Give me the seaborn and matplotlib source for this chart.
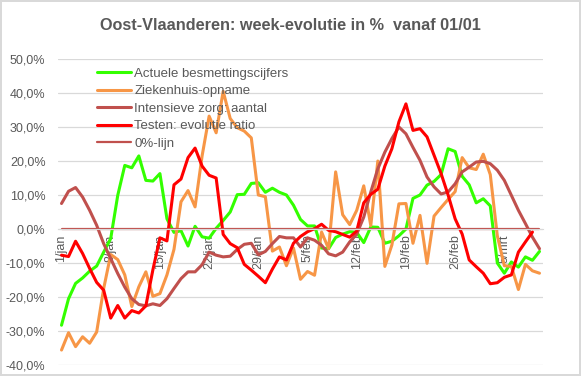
import pandas as pd
import seaborn as sns
import matplotlib.pyplot as plt
from matplotlib.ticker import FuncFormatter, MultipleLocator, FixedLocator

# dagen vanaf 1/jan t.e.m. 10/mrt
dagen = list(range(69))
tick_pos = [0, 7, 14, 21, 28, 35, 42, 49, 56, 63]
tick_labels = ["1/jan", "8/jan", "15/jan", "22/jan", "29/jan",
               "5/feb", "12/feb", "19/feb", "26/feb", "5/mrt"]

# week-evolutie in %
besmettingen = [-28.3, -20.5, -16.0, -14.4, -12.4, -10.9, -6.8, -2.8, 9.9, 18.7,
                18.0, 21.5, 14.3, 14.1, 16.3, 3.0, -1.0, -0.5, -5.0, 0.8,
                -2.3, -2.7, 0.2, 2.5, 5.0, 10.1, 10.2, 13.4, 13.6, 10.8,
                12.0, 10.8, 10.0, 7.0, 2.8, 0.9, 0.9, -5.6, -5.8, -2.5,
                -1.5, -0.8, -1.0, -4.0, 0.6, 0.5, -4.2, -3.6, -2.0, 0.0,
                9.0, 10.0, 12.9, 14.0, 16.0, 23.6, 22.8, 15.5, 13.0, 7.7,
                8.9, 6.8, -10.0, -13.0, -9.7, -11.2, -8.2, -9.2, -6.6]
ziekenhuis = [-35.6, -30.5, -34.6, -31.7, -33.6, -30.3, -17.5, -7.5, -9.0, -13.5,
              -22.8, -17.0, -12.6, -19.8, -19.0, -13.5, -6.0, 8.0, 11.3, 6.5,
              21.5, 33.2, 28.3, 40.5, 32.5, 29.8, 28.8, 26.8, 10.0, 9.5,
              -6.5, -5.3, -10.8, -5.6, -14.8, -12.5, -13.6, -0.9, -5.8, 16.8,
              4.2, 1.3, 5.5, 12.7, 1.0, 20.0, -11.0, -4.7, 7.4, 7.5,
              -4.2, 4.0, -10.1, 3.8, 6.3, 8.7, 11.0, 21.0, 18.0, 17.5,
              22.0, 16.0, -2.0, -10.8, -11.0, -17.8, -10.4, -12.3, -13.0]
intensieve = [7.5, 11.1, 12.2, 9.4, 5.5, 1.1, -4.3, -8.7, -13.1, -17.1,
              -20.5, -22.2, -22.6, -22.0, -22.5, -20.5, -17.5, -14.6, -12.6, -12.6,
              -10.5, -6.8, -7.7, -8.2, -8.0, -6.0, -4.5, -4.2, -7.6, -6.6,
              -4.3, -2.2, -2.6, -2.6, -5.3, -2.6, -3.3, -4.8, -7.3, -7.9,
              -6.8, -3.8, -1.5, 3.5, 10.9, 17.7, 22.6, 26.6, 30.0, 28.0,
              24.0, 20.2, 15.3, 12.4, 10.3, 10.9, 13.3, 16.8, 18.2, 19.7,
              19.9, 19.2, 17.3, 14.3, 9.9, 5.5, 1.6, -2.4, -5.8]
testen = [-7.7, -8.1, -3.6, -7.2, -11.6, -15.7, -18.0, -26.2, -22.5, -26.2,
          -24.0, -24.7, -22.6, -12.0, -2.6, -3.5, 13.0, 14.7, 21.0, 23.8,
          18.5, 15.8, 15.0, -1.6, -4.3, -5.5, -10.4, -12.1, -13.9, -15.8,
          -11.8, -8.2, -9.1, -4.2, -2.2, -0.8, 0.1, 1.4, -0.4, -0.8,
          -1.6, -2.4, -0.6, 7.7, 10.2, 11.7, 18.5, 23.6, 31.5, 36.8,
          29.0, 29.5, 27.1, 21.7, 16.3, 10.0, 3.0, -1.5, -9.1, -11.1,
          -13.0, -16.1, -15.8, -14.2, -13.5, -6.8, -3.8, -0.9]
nul_lijn = [0.0] * 69

reeksen = [
    ("Actuele besmettingscijfers", besmettingen, "#33FF00", 2.2),
    ("Ziekenhuis-opname", ziekenhuis, "#F79646", 2.2),
    ("Intensieve zorg: aantal", intensieve, "#C0504D", 2.2),
    ("Testen: evolutie ratio", testen, "#FF0000", 2.2),
    ("0%-lijn", nul_lijn, "#C0504D", 1.6),
]

sns.set_style("white")
plt.rcParams["font.family"] = ["Liberation Sans", "DejaVu Sans"]
grijs = "#595959"

fig, ax = plt.subplots(figsize=(5.81, 3.76), dpi=100)
fig.subplots_adjust(left=58 / 581, right=543 / 581, top=1 - 59 / 376, bottom=1 - 365 / 376)
fig.patch.set_edgecolor("#D9D9D9")
fig.patch.set_linewidth(1.5)

for naam, waarden, kleur, dikte in reeksen:
    sns.lineplot(x=dagen[:len(waarden)], y=waarden, color=kleur, linewidth=dikte,
                 label=naam, ax=ax)

ax.set_xlim(-0.5, 68.5)
ax.set_ylim(-40, 50)
ax.yaxis.set_major_locator(MultipleLocator(10))
ax.yaxis.set_major_formatter(FuncFormatter(lambda v, p: f"{v:.1f}%".replace(".", ",")))
ax.grid(axis="y", color="#D9D9D9", linewidth=0.9)
ax.set_axisbelow(True)

for s in ["top", "right", "left"]:
    ax.spines[s].set_visible(False)
ax.spines["bottom"].set_position(("data", 0))
ax.spines["bottom"].set_color("#D9D9D9")

ax.set_xticks(tick_pos)
ax.set_xticklabels(tick_labels, rotation=90, va="top", ha="center")
ax.xaxis.set_minor_locator(FixedLocator([p - 0.5 for p in tick_pos]))
ax.tick_params(axis="x", which="major", length=0, pad=4, labelsize=9, labelcolor=grijs)
ax.tick_params(axis="x", which="minor", length=4, color="#D9D9D9", width=0.9, direction="out")
ax.tick_params(axis="y", length=0, pad=9, labelsize=9, labelcolor=grijs)
ax.set_xlabel("")
ax.set_ylabel("")

leg = ax.legend(loc="upper left", bbox_to_anchor=(0.08, 0.972), frameon=False,
                fontsize=9.5, handlelength=2.6, handletextpad=0.25,
                labelspacing=0.4, borderpad=0, borderaxespad=0)
for t in leg.get_texts():
    t.set_color(grijs)

fig.suptitle("Oost-Vlaanderen: week-evolutie in %  vanaf 01/01", x=0.5, y=1 - 25 / 376,
             va="center", fontsize=11.7, fontweight="bold", color=grijs)

fig.savefig("out.png", dpi=100)
